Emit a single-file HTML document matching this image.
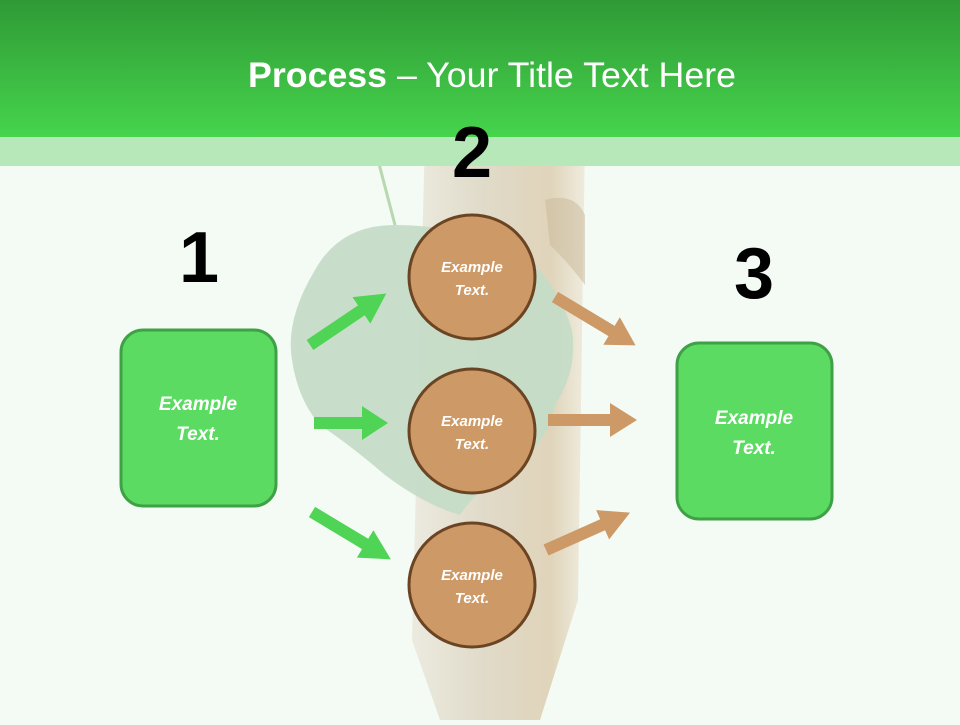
<!DOCTYPE html>
<html><head><meta charset="utf-8"><style>
html,body{margin:0;padding:0}
body{width:960px;height:720px;overflow:hidden;background:#f3fbf4;font-family:"Liberation Sans",sans-serif}
</style></head><body>
<svg width="960" height="720" viewBox="0 0 960 720" xmlns="http://www.w3.org/2000/svg">
<defs>
<linearGradient id="hg" x1="0" y1="0" x2="0" y2="1"><stop offset="0" stop-color="#2f9a35"/><stop offset="1" stop-color="#46d44d"/></linearGradient>
<linearGradient id="tr" x1="0" y1="0" x2="1" y2="0"><stop offset="0" stop-color="#ebe8dc"/><stop offset="0.4" stop-color="#ddd5c2"/><stop offset="0.8" stop-color="#dccdb0"/><stop offset="1" stop-color="#eee9da"/></linearGradient>
</defs>
<rect width="960" height="720" fill="#f3fbf4"/>
<path d="M425 137 L585 137 L578 600 L540 720 L440 720 L412 640 Z" fill="url(#tr)" opacity="0.85"/>
<path d="M545 200 Q575 192 585 215 L585 285 Q568 262 550 245 Z" fill="#c8b898" opacity="0.5"/>
<path d="M372 137 L395 225" stroke="#b8d8b0" stroke-width="3"/>
<path d="M395 225 Q340 225 315 270 Q285 320 292 360 Q298 400 320 425 Q350 445 385 475 Q425 505 460 515 Q480 485 515 465 Q550 440 555 405 Q578 370 572 330 Q560 290 530 260 Q470 225 395 225 Z" fill="#c5dcc7" opacity="0.95"/>
<rect x="0" y="0" width="960" height="137" fill="url(#hg)"/>
<rect x="0" y="137" width="960" height="29" fill="#b6e8b9"/>
<text x="492" y="87" text-anchor="middle" fill="#fff" font-size="35" textLength="488" lengthAdjust="spacingAndGlyphs" font-family="Liberation Sans,sans-serif"><tspan font-weight="bold">Process</tspan> – Your Title Text Here</text>
<g font-weight="bold" font-size="72" fill="#000" text-anchor="middle">
<text x="199" y="282">1</text>
<text x="472" y="177">2</text>
<text x="754" y="298">3</text>
</g>
<rect x="121" y="330" width="155" height="176" rx="22" fill="#5cdb62" stroke="#3fa145" stroke-width="3"/>
<rect x="677" y="343" width="155" height="176" rx="22" fill="#5cdb62" stroke="#3fa145" stroke-width="3"/>
<g fill="#fff" font-style="italic" font-weight="bold" font-size="19" text-anchor="middle">
<text x="198" y="410">Example</text><text x="198" y="440">Text.</text>
<text x="754" y="424">Example</text><text x="754" y="454">Text.</text>
</g>
<g fill="#4fd455">
<g transform="translate(310,345) rotate(-34)"><path d="M0 -6 L62 -6 L62 -16 L92 0 L62 16 L62 6 L0 6 Z"/></g>
<g transform="translate(314,423)"><path d="M0 -6 L48 -6 L48 -17 L74 0 L48 17 L48 6 L0 6 Z"/></g>
<g transform="translate(312,512) rotate(31)"><path d="M0 -6 L62 -6 L62 -16 L92 0 L62 16 L62 6 L0 6 Z"/></g>
</g>
<g fill="#cd9966">
<g transform="translate(555,297) rotate(31)"><path d="M0 -6 L66 -6 L66 -16 L94 0 L66 16 L66 6 L0 6 Z"/></g>
<g transform="translate(548,420)"><path d="M0 -6 L62 -6 L62 -17 L89 0 L62 17 L62 6 L0 6 Z"/></g>
<g transform="translate(546,550) rotate(-24)"><path d="M0 -6 L62 -6 L62 -16 L92 0 L62 16 L62 6 L0 6 Z"/></g>
</g>
<g fill="#cd9966" stroke="#6b4423" stroke-width="3">
<ellipse cx="472" cy="277" rx="63" ry="62"/>
<ellipse cx="472" cy="431" rx="63" ry="62"/>
<ellipse cx="472" cy="585" rx="63" ry="62"/>
</g>
<g fill="#fff" font-style="italic" font-weight="bold" font-size="15" text-anchor="middle">
<text x="472" y="272">Example</text><text x="472" y="295">Text.</text>
<text x="472" y="426">Example</text><text x="472" y="449">Text.</text>
<text x="472" y="580">Example</text><text x="472" y="603">Text.</text>
</g>
</svg>
</body></html>
